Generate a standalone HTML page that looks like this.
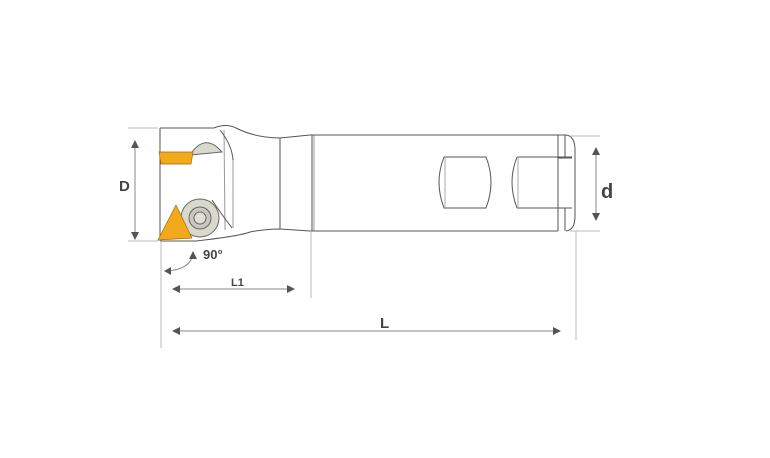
<!DOCTYPE html>
<html><head><style>body{margin:0;background:#fff}svg{display:block}</style></head><body>
<svg width="770" height="458" viewBox="0 0 770 458" xmlns="http://www.w3.org/2000/svg" font-family="Liberation Sans, sans-serif">
<g fill="none" stroke="#555" stroke-width="1">
<!-- head -->
<path d="M160 128 L214 128 Q226 123 236 128 Q256 138 280 138 L310 135"/>
<path d="M160 241 L196 241 Q240 236 250 232 Q266 229 280 229 L310 231"/>
<line x1="160" y1="128" x2="160" y2="241"/>
<line x1="280" y1="138" x2="280" y2="229"/>
<line x1="312" y1="135" x2="312" y2="231"/>
<line x1="314" y1="135" x2="314" y2="231" stroke="#999"/>
<line x1="224" y1="130" x2="225" y2="230" stroke="#999"/>
<line x1="233" y1="160" x2="233" y2="228" stroke="#999"/>
<path d="M220 130 Q232 145 233 160" />
<path d="M212 200 Q222 215 232 228"/>
<!-- shank -->
<line x1="310" y1="135" x2="558" y2="135"/>
<line x1="310" y1="231" x2="558" y2="231"/>
<line x1="558" y1="135" x2="558" y2="231"/>
<line x1="565" y1="135" x2="565" y2="158"/>
<line x1="565" y1="208" x2="565" y2="231"/>
<path d="M558 135 L566 135 Q575 136 575 150 L575 216 Q575 230 566 231"/>
<line x1="558" y1="158" x2="572" y2="158"/>
<line x1="558" y1="208" x2="572" y2="208"/>
<!-- flats -->
<path d="M444 157 L486 157 Q496 182 486 208 L444 208 Q434 182 444 157 Z"/>
<path d="M517 157 L572 157 M517 208 L572 208 M517 157 Q507 182 517 208"/>
<line x1="445" y1="157" x2="445" y2="208" stroke="#aaa"/>
<line x1="518" y1="157" x2="518" y2="208" stroke="#aaa"/>
</g>
<!-- screws -->
<path d="M190 155 Q205 132 222 152 Z" fill="#d8d8cc" stroke="#666"/>
<circle cx="200" cy="218" r="19" fill="#d8d8cc" stroke="#666"/>
<circle cx="200" cy="218" r="11" fill="#c8c8bc" stroke="#666"/>
<circle cx="200" cy="218" r="6" fill="#e0e0d8" stroke="#666"/>
<!-- inserts -->
<polygon points="159,152 193,152 191,164 161,164" fill="#f2a91c" stroke="#a06a00" stroke-width="0.7"/>
<polygon points="158,240 176,205 192,238" fill="#f2a91c" stroke="#a06a00" stroke-width="0.7"/>
<!-- dimension lines -->
<g stroke="#bbb" stroke-width="1">
<line x1="128" y1="128" x2="158" y2="128"/><line x1="128" y1="241" x2="158" y2="241"/>
<line x1="161" y1="241" x2="161" y2="348"/>
<line x1="311" y1="231" x2="311" y2="298"/>
<line x1="576" y1="231" x2="576" y2="340"/>
<line x1="570" y1="136" x2="600" y2="136"/><line x1="570" y1="231" x2="600" y2="231"/>
</g>
<g stroke="#888" stroke-width="1" fill="none">
<line x1="135" y1="143" x2="135" y2="237"/>
<line x1="596" y1="150" x2="596" y2="218"/>
<line x1="174" y1="289" x2="292" y2="289"/>
<line x1="174" y1="331" x2="558" y2="331"/>
<path d="M193 254 Q190 270 166 271"/>
</g>
<g fill="#555">
<polygon points="135,140 131,148 139,148"/><polygon points="135,240 131,232 139,232"/>
<polygon points="596,147 592,155 600,155"/><polygon points="596,221 592,213 600,213"/>
<polygon points="172,289 180,285 180,293"/><polygon points="295,289 287,285 287,293"/>
<polygon points="172,331 180,327 180,335"/><polygon points="561,331 553,327 553,335"/>
<polygon points="164,271 171,267 171,275"/><polygon points="193,251 189,259 197,259"/>
</g>
<g fill="#444" font-weight="bold">
<text x="119" y="191" font-size="15">D</text>
<text x="601" y="198" font-size="20">d</text>
<text x="203" y="259" font-size="13">90°</text>
<text x="231" y="286" font-size="11">L1</text>
<text x="380" y="328" font-size="15">L</text>
</g>
</svg>
</body></html>
